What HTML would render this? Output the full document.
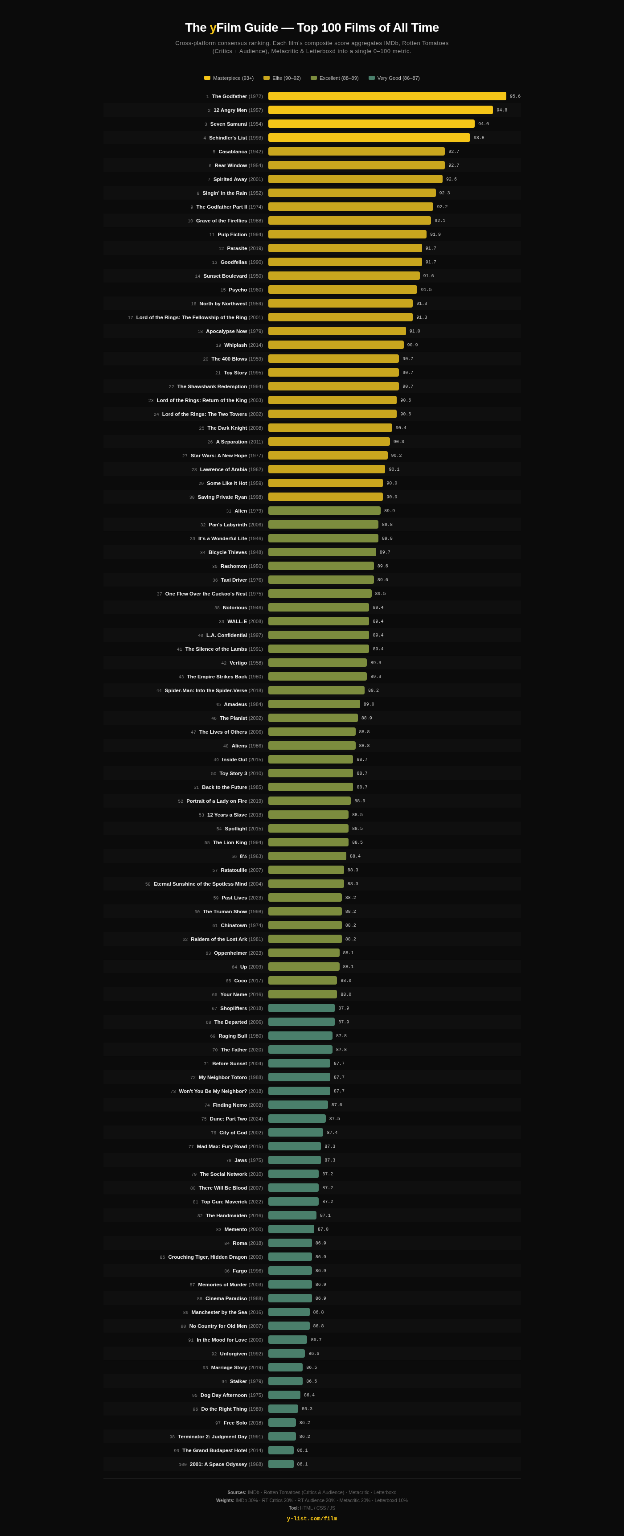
<!DOCTYPE html>
<html lang="en"><head><meta charset="utf-8"><title>The yFilm Guide</title>
<style>
html,body{margin:0;padding:0;background:#0b0b0b;}
html{width:624px;height:1536px;overflow:hidden;}
body{width:624px;height:1536px;overflow:hidden;position:relative;}
#root{position:absolute;left:0;top:0;width:1400px;height:3446px;transform:scale(0.445714);transform-origin:0 0;
  font-family:"Liberation Sans",sans-serif;color:#fff;will-change:transform;filter:blur(0.7px);}
.wrap{position:absolute;left:232px;top:0;width:936px;}
h1{position:absolute;left:0;top:42px;width:936px;margin:0;text-align:center;font-size:28px;line-height:40px;font-weight:bold;letter-spacing:-0.6px;white-space:nowrap;}
h1 .y{color:#f5c518;}
.sub .l2{letter-spacing:0.52px;}
.sub{position:absolute;left:-100px;top:88px;width:1136px;margin:0;text-align:center;font-size:13px;letter-spacing:0.42px;line-height:18.4px;color:#929292;white-space:nowrap;}
.legend{position:absolute;left:0;top:165px;width:936px;text-align:center;font-size:11.25px;line-height:20px;color:#bdbdbd;white-space:nowrap;}
.li{display:inline-block;margin:0 11px;}
.sw{display:inline-block;width:14px;height:9px;border-radius:2px;margin-right:6px;vertical-align:0;}
.m{background:#f5c518;}
.e{background:#c9a61e;}
.x{background:#7c8c3e;}
.v{background:#4a7f6b;}
.rows{position:absolute;left:0;top:200px;width:936px;}
.row{display:flex;align-items:center;height:31px;}
.row:nth-child(even){background:#0f0f0f;}
.lab{width:358px;margin-right:12px;text-align:right;font-size:12px;white-space:nowrap;flex:none;}
.rk{font-family:"Liberation Mono",monospace;font-size:10px;color:#808080;margin-right:7px;}
.tt{font-weight:bold;color:#f0f0f0;font-size:11.5px;}
.yr{color:#929292;font-size:11.2px;}
.trk{flex:1;display:flex;align-items:center;min-width:0;}
.bar{height:19.5px;border-radius:4px;flex:0 1 auto;min-width:0;}
.val{font-family:"Liberation Mono",monospace;font-size:10px;color:#c8c8c8;margin-left:8px;flex:none;position:relative;top:0.8px;}
.foot{position:absolute;left:0;top:3316px;width:936px;border-top:2px solid #1a1a1a;text-align:center;font-size:11px;color:#606060;}
.fl{line-height:17.8px;white-space:nowrap;}
.f1{letter-spacing:-0.05px;}.f2{letter-spacing:-0.18px;}.f3{letter-spacing:-0.3px;}
.fl b{color:#9c9c9c;font-size:10px;}
.foot .fl:first-child{margin-top:21.8px;}
.link{font-family:"Liberation Mono",monospace;font-weight:bold;font-size:12.5px;color:#f5c518;margin-top:6.3px;line-height:18px;}

</style></head><body>
<div id="root">
<div class="wrap">
<h1>The <span class="y">y</span>Film Guide — Top 100 Films of All Time</h1>
<p class="sub">Cross-platform consensus ranking. Each film's composite score aggregates IMDb, Rotten Tomatoes<br><span class="l2">(Critics + Audience), Metacritic &amp; Letterboxd into a single 0–100 metric.</span></p>
<div class="legend"><span class="li"><i class="sw m"></i>Masterpiece (93+)</span><span class="li"><i class="sw e"></i>Elite (90–92)</span><span class="li"><i class="sw x"></i>Excellent (88–89)</span><span class="li"><i class="sw v"></i>Very Good (86–87)</span></div>
<div class="rows">
<div class="row"><div class="lab"><span class="rk">1</span><span class="tt">The Godfather</span> <span class="yr">(1972)</span></div><div class="trk"><div class="bar m" style="width:96.364%"></div><span class="val">95.6</span></div></div>
<div class="row"><div class="lab"><span class="rk">2</span><span class="tt">12 Angry Men</span> <span class="yr">(1957)</span></div><div class="trk"><div class="bar m" style="width:89.091%"></div><span class="val">94.8</span></div></div>
<div class="row"><div class="lab"><span class="rk">3</span><span class="tt">Seven Samurai</span> <span class="yr">(1954)</span></div><div class="trk"><div class="bar m" style="width:81.818%"></div><span class="val">94.0</span></div></div>
<div class="row"><div class="lab"><span class="rk">4</span><span class="tt">Schindler's List</span> <span class="yr">(1993)</span></div><div class="trk"><div class="bar m" style="width:80.000%"></div><span class="val">93.8</span></div></div>
<div class="row"><div class="lab"><span class="rk">5</span><span class="tt">Casablanca</span> <span class="yr">(1942)</span></div><div class="trk"><div class="bar e" style="width:70.000%"></div><span class="val">92.7</span></div></div>
<div class="row"><div class="lab"><span class="rk">6</span><span class="tt">Rear Window</span> <span class="yr">(1954)</span></div><div class="trk"><div class="bar e" style="width:70.000%"></div><span class="val">92.7</span></div></div>
<div class="row"><div class="lab"><span class="rk">7</span><span class="tt">Spirited Away</span> <span class="yr">(2001)</span></div><div class="trk"><div class="bar e" style="width:69.091%"></div><span class="val">92.6</span></div></div>
<div class="row"><div class="lab"><span class="rk">8</span><span class="tt">Singin' in the Rain</span> <span class="yr">(1952)</span></div><div class="trk"><div class="bar e" style="width:66.364%"></div><span class="val">92.3</span></div></div>
<div class="row"><div class="lab"><span class="rk">9</span><span class="tt">The Godfather Part II</span> <span class="yr">(1974)</span></div><div class="trk"><div class="bar e" style="width:65.455%"></div><span class="val">92.2</span></div></div>
<div class="row"><div class="lab"><span class="rk">10</span><span class="tt">Grave of the Fireflies</span> <span class="yr">(1988)</span></div><div class="trk"><div class="bar e" style="width:64.545%"></div><span class="val">92.1</span></div></div>
<div class="row"><div class="lab"><span class="rk">11</span><span class="tt">Pulp Fiction</span> <span class="yr">(1994)</span></div><div class="trk"><div class="bar e" style="width:62.727%"></div><span class="val">91.9</span></div></div>
<div class="row"><div class="lab"><span class="rk">12</span><span class="tt">Parasite</span> <span class="yr">(2019)</span></div><div class="trk"><div class="bar e" style="width:60.909%"></div><span class="val">91.7</span></div></div>
<div class="row"><div class="lab"><span class="rk">13</span><span class="tt">Goodfellas</span> <span class="yr">(1990)</span></div><div class="trk"><div class="bar e" style="width:60.909%"></div><span class="val">91.7</span></div></div>
<div class="row"><div class="lab"><span class="rk">14</span><span class="tt">Sunset Boulevard</span> <span class="yr">(1950)</span></div><div class="trk"><div class="bar e" style="width:60.000%"></div><span class="val">91.6</span></div></div>
<div class="row"><div class="lab"><span class="rk">15</span><span class="tt">Psycho</span> <span class="yr">(1960)</span></div><div class="trk"><div class="bar e" style="width:59.091%"></div><span class="val">91.5</span></div></div>
<div class="row"><div class="lab"><span class="rk">16</span><span class="tt">North by Northwest</span> <span class="yr">(1959)</span></div><div class="trk"><div class="bar e" style="width:57.273%"></div><span class="val">91.3</span></div></div>
<div class="row"><div class="lab"><span class="rk">17</span><span class="tt">Lord of the Rings: The Fellowship of the Ring</span> <span class="yr">(2001)</span></div><div class="trk"><div class="bar e" style="width:57.273%"></div><span class="val">91.3</span></div></div>
<div class="row"><div class="lab"><span class="rk">18</span><span class="tt">Apocalypse Now</span> <span class="yr">(1979)</span></div><div class="trk"><div class="bar e" style="width:54.545%"></div><span class="val">91.0</span></div></div>
<div class="row"><div class="lab"><span class="rk">19</span><span class="tt">Whiplash</span> <span class="yr">(2014)</span></div><div class="trk"><div class="bar e" style="width:53.636%"></div><span class="val">90.9</span></div></div>
<div class="row"><div class="lab"><span class="rk">20</span><span class="tt">The 400 Blows</span> <span class="yr">(1959)</span></div><div class="trk"><div class="bar e" style="width:51.818%"></div><span class="val">90.7</span></div></div>
<div class="row"><div class="lab"><span class="rk">21</span><span class="tt">Toy Story</span> <span class="yr">(1995)</span></div><div class="trk"><div class="bar e" style="width:51.818%"></div><span class="val">90.7</span></div></div>
<div class="row"><div class="lab"><span class="rk">22</span><span class="tt">The Shawshank Redemption</span> <span class="yr">(1994)</span></div><div class="trk"><div class="bar e" style="width:51.818%"></div><span class="val">90.7</span></div></div>
<div class="row"><div class="lab"><span class="rk">23</span><span class="tt">Lord of the Rings: Return of the King</span> <span class="yr">(2003)</span></div><div class="trk"><div class="bar e" style="width:50.909%"></div><span class="val">90.6</span></div></div>
<div class="row"><div class="lab"><span class="rk">24</span><span class="tt">Lord of the Rings: The Two Towers</span> <span class="yr">(2002)</span></div><div class="trk"><div class="bar e" style="width:50.909%"></div><span class="val">90.6</span></div></div>
<div class="row"><div class="lab"><span class="rk">25</span><span class="tt">The Dark Knight</span> <span class="yr">(2008)</span></div><div class="trk"><div class="bar e" style="width:49.091%"></div><span class="val">90.4</span></div></div>
<div class="row"><div class="lab"><span class="rk">26</span><span class="tt">A Separation</span> <span class="yr">(2011)</span></div><div class="trk"><div class="bar e" style="width:48.182%"></div><span class="val">90.3</span></div></div>
<div class="row"><div class="lab"><span class="rk">27</span><span class="tt">Star Wars: A New Hope</span> <span class="yr">(1977)</span></div><div class="trk"><div class="bar e" style="width:47.273%"></div><span class="val">90.2</span></div></div>
<div class="row"><div class="lab"><span class="rk">28</span><span class="tt">Lawrence of Arabia</span> <span class="yr">(1962)</span></div><div class="trk"><div class="bar e" style="width:46.364%"></div><span class="val">90.1</span></div></div>
<div class="row"><div class="lab"><span class="rk">29</span><span class="tt">Some Like It Hot</span> <span class="yr">(1959)</span></div><div class="trk"><div class="bar e" style="width:45.455%"></div><span class="val">90.0</span></div></div>
<div class="row"><div class="lab"><span class="rk">30</span><span class="tt">Saving Private Ryan</span> <span class="yr">(1998)</span></div><div class="trk"><div class="bar e" style="width:45.455%"></div><span class="val">90.0</span></div></div>
<div class="row"><div class="lab"><span class="rk">31</span><span class="tt">Alien</span> <span class="yr">(1979)</span></div><div class="trk"><div class="bar x" style="width:44.545%"></div><span class="val">89.9</span></div></div>
<div class="row"><div class="lab"><span class="rk">32</span><span class="tt">Pan's Labyrinth</span> <span class="yr">(2006)</span></div><div class="trk"><div class="bar x" style="width:43.636%"></div><span class="val">89.8</span></div></div>
<div class="row"><div class="lab"><span class="rk">33</span><span class="tt">It's a Wonderful Life</span> <span class="yr">(1946)</span></div><div class="trk"><div class="bar x" style="width:43.636%"></div><span class="val">89.8</span></div></div>
<div class="row"><div class="lab"><span class="rk">34</span><span class="tt">Bicycle Thieves</span> <span class="yr">(1948)</span></div><div class="trk"><div class="bar x" style="width:42.727%"></div><span class="val">89.7</span></div></div>
<div class="row"><div class="lab"><span class="rk">35</span><span class="tt">Rashomon</span> <span class="yr">(1950)</span></div><div class="trk"><div class="bar x" style="width:41.818%"></div><span class="val">89.6</span></div></div>
<div class="row"><div class="lab"><span class="rk">36</span><span class="tt">Taxi Driver</span> <span class="yr">(1976)</span></div><div class="trk"><div class="bar x" style="width:41.818%"></div><span class="val">89.6</span></div></div>
<div class="row"><div class="lab"><span class="rk">37</span><span class="tt">One Flew Over the Cuckoo's Nest</span> <span class="yr">(1975)</span></div><div class="trk"><div class="bar x" style="width:40.909%"></div><span class="val">89.5</span></div></div>
<div class="row"><div class="lab"><span class="rk">38</span><span class="tt">Notorious</span> <span class="yr">(1946)</span></div><div class="trk"><div class="bar x" style="width:40.000%"></div><span class="val">89.4</span></div></div>
<div class="row"><div class="lab"><span class="rk">39</span><span class="tt">WALL-E</span> <span class="yr">(2008)</span></div><div class="trk"><div class="bar x" style="width:40.000%"></div><span class="val">89.4</span></div></div>
<div class="row"><div class="lab"><span class="rk">40</span><span class="tt">L.A. Confidential</span> <span class="yr">(1997)</span></div><div class="trk"><div class="bar x" style="width:40.000%"></div><span class="val">89.4</span></div></div>
<div class="row"><div class="lab"><span class="rk">41</span><span class="tt">The Silence of the Lambs</span> <span class="yr">(1991)</span></div><div class="trk"><div class="bar x" style="width:40.000%"></div><span class="val">89.4</span></div></div>
<div class="row"><div class="lab"><span class="rk">42</span><span class="tt">Vertigo</span> <span class="yr">(1958)</span></div><div class="trk"><div class="bar x" style="width:39.091%"></div><span class="val">89.3</span></div></div>
<div class="row"><div class="lab"><span class="rk">43</span><span class="tt">The Empire Strikes Back</span> <span class="yr">(1980)</span></div><div class="trk"><div class="bar x" style="width:39.091%"></div><span class="val">89.3</span></div></div>
<div class="row"><div class="lab"><span class="rk">44</span><span class="tt">Spider-Man: Into the Spider-Verse</span> <span class="yr">(2018)</span></div><div class="trk"><div class="bar x" style="width:38.182%"></div><span class="val">89.2</span></div></div>
<div class="row"><div class="lab"><span class="rk">45</span><span class="tt">Amadeus</span> <span class="yr">(1984)</span></div><div class="trk"><div class="bar x" style="width:36.364%"></div><span class="val">89.0</span></div></div>
<div class="row"><div class="lab"><span class="rk">46</span><span class="tt">The Pianist</span> <span class="yr">(2002)</span></div><div class="trk"><div class="bar x" style="width:35.455%"></div><span class="val">88.9</span></div></div>
<div class="row"><div class="lab"><span class="rk">47</span><span class="tt">The Lives of Others</span> <span class="yr">(2006)</span></div><div class="trk"><div class="bar x" style="width:34.545%"></div><span class="val">88.8</span></div></div>
<div class="row"><div class="lab"><span class="rk">48</span><span class="tt">Aliens</span> <span class="yr">(1986)</span></div><div class="trk"><div class="bar x" style="width:34.545%"></div><span class="val">88.8</span></div></div>
<div class="row"><div class="lab"><span class="rk">49</span><span class="tt">Inside Out</span> <span class="yr">(2015)</span></div><div class="trk"><div class="bar x" style="width:33.636%"></div><span class="val">88.7</span></div></div>
<div class="row"><div class="lab"><span class="rk">50</span><span class="tt">Toy Story 3</span> <span class="yr">(2010)</span></div><div class="trk"><div class="bar x" style="width:33.636%"></div><span class="val">88.7</span></div></div>
<div class="row"><div class="lab"><span class="rk">51</span><span class="tt">Back to the Future</span> <span class="yr">(1985)</span></div><div class="trk"><div class="bar x" style="width:33.636%"></div><span class="val">88.7</span></div></div>
<div class="row"><div class="lab"><span class="rk">52</span><span class="tt">Portrait of a Lady on Fire</span> <span class="yr">(2019)</span></div><div class="trk"><div class="bar x" style="width:32.727%"></div><span class="val">88.6</span></div></div>
<div class="row"><div class="lab"><span class="rk">53</span><span class="tt">12 Years a Slave</span> <span class="yr">(2013)</span></div><div class="trk"><div class="bar x" style="width:31.818%"></div><span class="val">88.5</span></div></div>
<div class="row"><div class="lab"><span class="rk">54</span><span class="tt">Spotlight</span> <span class="yr">(2015)</span></div><div class="trk"><div class="bar x" style="width:31.818%"></div><span class="val">88.5</span></div></div>
<div class="row"><div class="lab"><span class="rk">55</span><span class="tt">The Lion King</span> <span class="yr">(1994)</span></div><div class="trk"><div class="bar x" style="width:31.818%"></div><span class="val">88.5</span></div></div>
<div class="row"><div class="lab"><span class="rk">56</span><span class="tt">8½</span> <span class="yr">(1963)</span></div><div class="trk"><div class="bar x" style="width:30.909%"></div><span class="val">88.4</span></div></div>
<div class="row"><div class="lab"><span class="rk">57</span><span class="tt">Ratatouille</span> <span class="yr">(2007)</span></div><div class="trk"><div class="bar x" style="width:30.000%"></div><span class="val">88.3</span></div></div>
<div class="row"><div class="lab"><span class="rk">58</span><span class="tt">Eternal Sunshine of the Spotless Mind</span> <span class="yr">(2004)</span></div><div class="trk"><div class="bar x" style="width:30.000%"></div><span class="val">88.3</span></div></div>
<div class="row"><div class="lab"><span class="rk">59</span><span class="tt">Past Lives</span> <span class="yr">(2023)</span></div><div class="trk"><div class="bar x" style="width:29.091%"></div><span class="val">88.2</span></div></div>
<div class="row"><div class="lab"><span class="rk">60</span><span class="tt">The Truman Show</span> <span class="yr">(1998)</span></div><div class="trk"><div class="bar x" style="width:29.091%"></div><span class="val">88.2</span></div></div>
<div class="row"><div class="lab"><span class="rk">61</span><span class="tt">Chinatown</span> <span class="yr">(1974)</span></div><div class="trk"><div class="bar x" style="width:29.091%"></div><span class="val">88.2</span></div></div>
<div class="row"><div class="lab"><span class="rk">62</span><span class="tt">Raiders of the Lost Ark</span> <span class="yr">(1981)</span></div><div class="trk"><div class="bar x" style="width:29.091%"></div><span class="val">88.2</span></div></div>
<div class="row"><div class="lab"><span class="rk">63</span><span class="tt">Oppenheimer</span> <span class="yr">(2023)</span></div><div class="trk"><div class="bar x" style="width:28.182%"></div><span class="val">88.1</span></div></div>
<div class="row"><div class="lab"><span class="rk">64</span><span class="tt">Up</span> <span class="yr">(2009)</span></div><div class="trk"><div class="bar x" style="width:28.182%"></div><span class="val">88.1</span></div></div>
<div class="row"><div class="lab"><span class="rk">65</span><span class="tt">Coco</span> <span class="yr">(2017)</span></div><div class="trk"><div class="bar x" style="width:27.273%"></div><span class="val">88.0</span></div></div>
<div class="row"><div class="lab"><span class="rk">66</span><span class="tt">Your Name</span> <span class="yr">(2016)</span></div><div class="trk"><div class="bar x" style="width:27.273%"></div><span class="val">88.0</span></div></div>
<div class="row"><div class="lab"><span class="rk">67</span><span class="tt">Shoplifters</span> <span class="yr">(2018)</span></div><div class="trk"><div class="bar v" style="width:26.364%"></div><span class="val">87.9</span></div></div>
<div class="row"><div class="lab"><span class="rk">68</span><span class="tt">The Departed</span> <span class="yr">(2006)</span></div><div class="trk"><div class="bar v" style="width:26.364%"></div><span class="val">87.9</span></div></div>
<div class="row"><div class="lab"><span class="rk">69</span><span class="tt">Raging Bull</span> <span class="yr">(1980)</span></div><div class="trk"><div class="bar v" style="width:25.455%"></div><span class="val">87.8</span></div></div>
<div class="row"><div class="lab"><span class="rk">70</span><span class="tt">The Father</span> <span class="yr">(2020)</span></div><div class="trk"><div class="bar v" style="width:25.455%"></div><span class="val">87.8</span></div></div>
<div class="row"><div class="lab"><span class="rk">71</span><span class="tt">Before Sunset</span> <span class="yr">(2004)</span></div><div class="trk"><div class="bar v" style="width:24.545%"></div><span class="val">87.7</span></div></div>
<div class="row"><div class="lab"><span class="rk">72</span><span class="tt">My Neighbor Totoro</span> <span class="yr">(1988)</span></div><div class="trk"><div class="bar v" style="width:24.545%"></div><span class="val">87.7</span></div></div>
<div class="row"><div class="lab"><span class="rk">73</span><span class="tt">Won't You Be My Neighbor?</span> <span class="yr">(2018)</span></div><div class="trk"><div class="bar v" style="width:24.545%"></div><span class="val">87.7</span></div></div>
<div class="row"><div class="lab"><span class="rk">74</span><span class="tt">Finding Nemo</span> <span class="yr">(2003)</span></div><div class="trk"><div class="bar v" style="width:23.636%"></div><span class="val">87.6</span></div></div>
<div class="row"><div class="lab"><span class="rk">75</span><span class="tt">Dune: Part Two</span> <span class="yr">(2024)</span></div><div class="trk"><div class="bar v" style="width:22.727%"></div><span class="val">87.5</span></div></div>
<div class="row"><div class="lab"><span class="rk">76</span><span class="tt">City of God</span> <span class="yr">(2002)</span></div><div class="trk"><div class="bar v" style="width:21.818%"></div><span class="val">87.4</span></div></div>
<div class="row"><div class="lab"><span class="rk">77</span><span class="tt">Mad Max: Fury Road</span> <span class="yr">(2015)</span></div><div class="trk"><div class="bar v" style="width:20.909%"></div><span class="val">87.3</span></div></div>
<div class="row"><div class="lab"><span class="rk">78</span><span class="tt">Jaws</span> <span class="yr">(1975)</span></div><div class="trk"><div class="bar v" style="width:20.909%"></div><span class="val">87.3</span></div></div>
<div class="row"><div class="lab"><span class="rk">79</span><span class="tt">The Social Network</span> <span class="yr">(2010)</span></div><div class="trk"><div class="bar v" style="width:20.000%"></div><span class="val">87.2</span></div></div>
<div class="row"><div class="lab"><span class="rk">80</span><span class="tt">There Will Be Blood</span> <span class="yr">(2007)</span></div><div class="trk"><div class="bar v" style="width:20.000%"></div><span class="val">87.2</span></div></div>
<div class="row"><div class="lab"><span class="rk">81</span><span class="tt">Top Gun: Maverick</span> <span class="yr">(2022)</span></div><div class="trk"><div class="bar v" style="width:20.000%"></div><span class="val">87.2</span></div></div>
<div class="row"><div class="lab"><span class="rk">82</span><span class="tt">The Handmaiden</span> <span class="yr">(2016)</span></div><div class="trk"><div class="bar v" style="width:19.091%"></div><span class="val">87.1</span></div></div>
<div class="row"><div class="lab"><span class="rk">83</span><span class="tt">Memento</span> <span class="yr">(2000)</span></div><div class="trk"><div class="bar v" style="width:18.182%"></div><span class="val">87.0</span></div></div>
<div class="row"><div class="lab"><span class="rk">84</span><span class="tt">Roma</span> <span class="yr">(2018)</span></div><div class="trk"><div class="bar v" style="width:17.273%"></div><span class="val">86.9</span></div></div>
<div class="row"><div class="lab"><span class="rk">85</span><span class="tt">Crouching Tiger, Hidden Dragon</span> <span class="yr">(2000)</span></div><div class="trk"><div class="bar v" style="width:17.273%"></div><span class="val">86.9</span></div></div>
<div class="row"><div class="lab"><span class="rk">86</span><span class="tt">Fargo</span> <span class="yr">(1996)</span></div><div class="trk"><div class="bar v" style="width:17.273%"></div><span class="val">86.9</span></div></div>
<div class="row"><div class="lab"><span class="rk">87</span><span class="tt">Memories of Murder</span> <span class="yr">(2003)</span></div><div class="trk"><div class="bar v" style="width:17.273%"></div><span class="val">86.9</span></div></div>
<div class="row"><div class="lab"><span class="rk">88</span><span class="tt">Cinema Paradiso</span> <span class="yr">(1988)</span></div><div class="trk"><div class="bar v" style="width:17.273%"></div><span class="val">86.9</span></div></div>
<div class="row"><div class="lab"><span class="rk">89</span><span class="tt">Manchester by the Sea</span> <span class="yr">(2016)</span></div><div class="trk"><div class="bar v" style="width:16.364%"></div><span class="val">86.8</span></div></div>
<div class="row"><div class="lab"><span class="rk">90</span><span class="tt">No Country for Old Men</span> <span class="yr">(2007)</span></div><div class="trk"><div class="bar v" style="width:16.364%"></div><span class="val">86.8</span></div></div>
<div class="row"><div class="lab"><span class="rk">91</span><span class="tt">In the Mood for Love</span> <span class="yr">(2000)</span></div><div class="trk"><div class="bar v" style="width:15.455%"></div><span class="val">86.7</span></div></div>
<div class="row"><div class="lab"><span class="rk">92</span><span class="tt">Unforgiven</span> <span class="yr">(1992)</span></div><div class="trk"><div class="bar v" style="width:14.545%"></div><span class="val">86.6</span></div></div>
<div class="row"><div class="lab"><span class="rk">93</span><span class="tt">Marriage Story</span> <span class="yr">(2019)</span></div><div class="trk"><div class="bar v" style="width:13.636%"></div><span class="val">86.5</span></div></div>
<div class="row"><div class="lab"><span class="rk">94</span><span class="tt">Stalker</span> <span class="yr">(1979)</span></div><div class="trk"><div class="bar v" style="width:13.636%"></div><span class="val">86.5</span></div></div>
<div class="row"><div class="lab"><span class="rk">95</span><span class="tt">Dog Day Afternoon</span> <span class="yr">(1975)</span></div><div class="trk"><div class="bar v" style="width:12.727%"></div><span class="val">86.4</span></div></div>
<div class="row"><div class="lab"><span class="rk">96</span><span class="tt">Do the Right Thing</span> <span class="yr">(1989)</span></div><div class="trk"><div class="bar v" style="width:11.818%"></div><span class="val">86.3</span></div></div>
<div class="row"><div class="lab"><span class="rk">97</span><span class="tt">Free Solo</span> <span class="yr">(2018)</span></div><div class="trk"><div class="bar v" style="width:10.909%"></div><span class="val">86.2</span></div></div>
<div class="row"><div class="lab"><span class="rk">98</span><span class="tt">Terminator 2: Judgment Day</span> <span class="yr">(1991)</span></div><div class="trk"><div class="bar v" style="width:10.909%"></div><span class="val">86.2</span></div></div>
<div class="row"><div class="lab"><span class="rk">99</span><span class="tt">The Grand Budapest Hotel</span> <span class="yr">(2014)</span></div><div class="trk"><div class="bar v" style="width:10.000%"></div><span class="val">86.1</span></div></div>
<div class="row"><div class="lab"><span class="rk">100</span><span class="tt">2001: A Space Odyssey</span> <span class="yr">(1968)</span></div><div class="trk"><div class="bar v" style="width:10.000%"></div><span class="val">86.1</span></div></div>
</div>
<div class="foot">
<div class="fl f1"><b>Sources:</b> IMDb · Rotten Tomatoes (Critics &amp; Audience) · Metacritic · Letterboxd</div>
<div class="fl f2"><b>Weights:</b> IMDb 30% · RT Critics 20% · RT Audience 20% · Metacritic 20% · Letterboxd 10%</div>
<div class="fl f3"><b>Tool:</b> HTML / CSS / JS</div>
<div class="link">y-list.com/film</div>
</div>
</div>
</div>
</body></html>
